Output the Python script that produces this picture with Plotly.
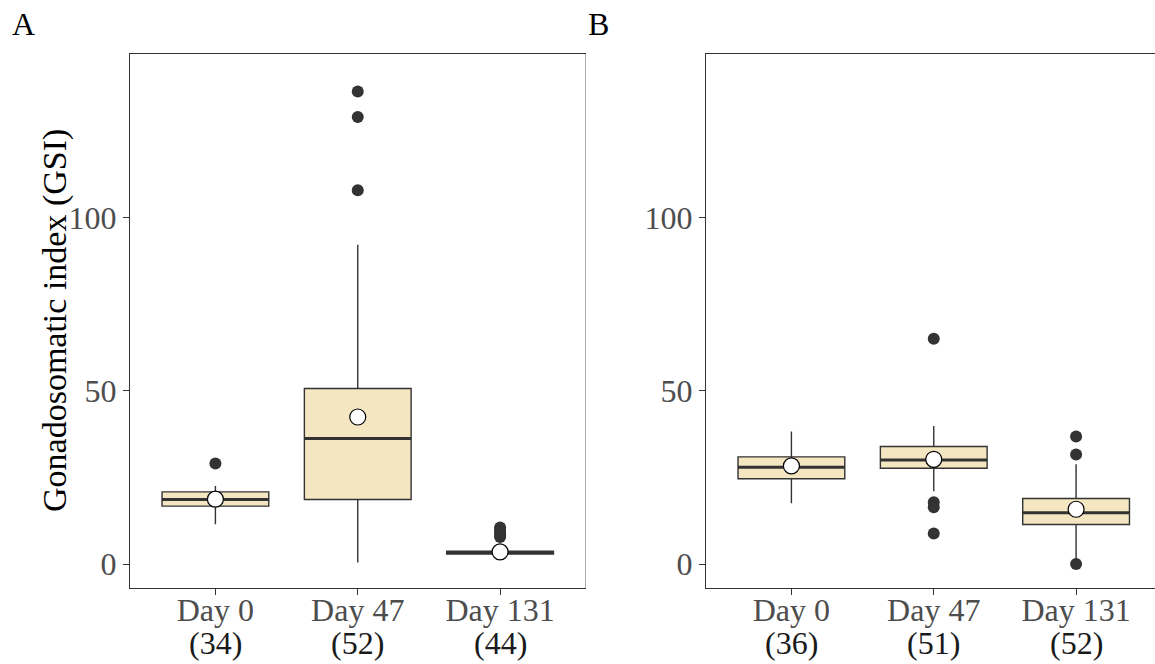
import plotly.graph_objects as go

# ---------------- data ----------------
categories = ["Day 0", "Day 47", "Day 131"]
positions = [1, 2, 3]

# Panel A
n_A = [34, 52, 44]
q1_A = [16.7, 18.6, 2.9]
med_A = [18.6, 36.2, 3.3]
q3_A = [20.8, 50.6, 3.7]
lo_A = [11.5, 0.4, 2.4]
hi_A = [22.5, 92.1, 4.4]
mean_A = [18.7, 42.4, 3.5]
out_A = [[29.0], [107.8, 128.9, 136.3], [7.8, 8.3, 9.0, 9.8, 10.5]]

# Panel B
n_B = [36, 51, 52]
q1_B = [24.6, 27.6, 11.4]
med_B = [27.9, 30.0, 14.8]
q3_B = [30.9, 33.9, 18.9]
lo_B = [17.5, 21.0, 1.0]
hi_B = [38.2, 39.8, 28.8]
mean_B = [28.3, 30.2, 15.8]
out_B = [[], [65.0, 17.8, 16.4, 8.8], [0.0, 31.6, 36.8]]

y_ticks = [0, 50, 100]

# ---------------- style ----------------
FONT = "Liberation Serif"
FS = 32
FILL = "#F3E6C0"
DARK = "#333333"
GRAY_TXT = "#4D4D4D"
BOXW = 0.75

W, H = 1155, 664
fig = go.Figure()


def add_panel(xa, ya, q1, med, q3, lo, hi, mean, outs):
    for p, a, m, b, l, h in zip(positions, q1, med, q3, lo, hi):
        fig.add_trace(go.Box(
            x=[p], q1=[a], median=[m], q3=[b], lowerfence=[l], upperfence=[h],
            width=BOXW, whiskerwidth=0, fillcolor=FILL,
            line=dict(color=DARK, width=1.4), boxpoints=False,
            xaxis=xa, yaxis=ya, showlegend=False, hoverinfo="skip"))
    for p, m in zip(positions, med):
        fig.add_trace(go.Scatter(
            x=[p - BOXW / 2, p + BOXW / 2], y=[m, m], mode="lines",
            line=dict(color=DARK, width=3), xaxis=xa, yaxis=ya,
            showlegend=False, hoverinfo="skip"))
    ox, oy = [], []
    for p, vals in zip(positions, outs):
        for v in vals:
            ox.append(p)
            oy.append(v)
    fig.add_trace(go.Scatter(
        x=ox, y=oy, mode="markers",
        marker=dict(color=DARK, size=12, line=dict(width=0)),
        xaxis=xa, yaxis=ya, showlegend=False, hoverinfo="skip"))
    fig.add_trace(go.Scatter(
        x=positions, y=mean, mode="markers",
        marker=dict(color="white", size=16, line=dict(color="black", width=1.2)),
        xaxis=xa, yaxis=ya, showlegend=False, hoverinfo="skip"))


add_panel("x", "y", q1_A, med_A, q3_A, lo_A, hi_A, mean_A, out_A)
add_panel("x2", "y2", q1_B, med_B, q3_B, lo_B, hi_B, mean_B, out_B)

y_dom = [(H - 588) / H, (H - 54) / H]
yrange = [-6.92, 147.1]
step = (585.5 - 130) / 3.2

xcommon = dict(
    tickmode="array", tickvals=positions, ticktext=categories,
    ticks="outside", ticklen=6, tickcolor=DARK, tickwidth=1,
    ticklabelstandoff=-12,
    tickfont=dict(family=FONT, size=FS, color=GRAY_TXT),
    showgrid=False, zeroline=False, showline=True, linecolor=DARK,
    linewidth=1, mirror=True, fixedrange=True)
ycommon = dict(
    range=yrange, tickmode="array", tickvals=y_ticks,
    ticks="outside", ticklen=6, tickcolor=DARK, tickwidth=1,
    tickfont=dict(family=FONT, size=FS, color=GRAY_TXT),
    showgrid=False, zeroline=False, showline=True, linecolor=DARK,
    linewidth=1, mirror=False, fixedrange=True)

fig.update_layout(
    width=W, height=H,
    margin=dict(l=0, r=0, t=0, b=0),
    paper_bgcolor="white", plot_bgcolor="white",
    xaxis=dict(domain=[130 / W, 585.5 / W], range=[0.4, 3.6], anchor="y", **xcommon),
    yaxis=dict(domain=y_dom, anchor="x", **ycommon),
    xaxis2=dict(domain=[706 / W, 1.0], range=[0.4, 0.4 + (W - 706) / step],
                anchor="y2", **xcommon),
    yaxis2=dict(domain=y_dom, anchor="x2", **ycommon),
    showlegend=False,
)

# light right border of panel A
fig.add_shape(type="line", xref="x domain", yref="y domain",
              x0=1, x1=1, y0=0, y1=1, line=dict(color="#AAAAAA", width=1))

annots = []
# sample sizes under tick labels
for xr, ns in (("x", n_A), ("x2", n_B)):
    for p, n in zip(positions, ns):
        annots.append(dict(x=p, xref=xr, y=(H - 643) / H, yref="paper",
                           text=f"({n})", showarrow=False, xanchor="center",
                           yanchor="middle",
                           font=dict(family=FONT, size=FS, color="#1A1A1A")))
# panel letters
annots.append(dict(x=10 / W, y=(H - 24) / H, xref="paper", yref="paper", text="A",
                   showarrow=False, xanchor="left", yanchor="middle",
                   font=dict(family=FONT, size=FS, color="black")))
annots.append(dict(x=586 / W, y=(H - 24) / H, xref="paper", yref="paper", text="B",
                   showarrow=False, xanchor="left", yanchor="middle",
                   font=dict(family=FONT, size=FS, color="black")))
# y axis title
annots.append(dict(x=55 / W, y=(H - 321) / H, xref="paper", yref="paper",
                   text="Gonadosomatic index (GSI)", textangle=-90,
                   showarrow=False, xanchor="center", yanchor="middle",
                   font=dict(family=FONT, size=34, color="black")))
fig.update_layout(annotations=annots)

fig.write_html(
    "out.html",
    config={"displayModeBar": False},
    post_script="document.body.style.margin='0px';document.body.style.padding='0px';",
)
